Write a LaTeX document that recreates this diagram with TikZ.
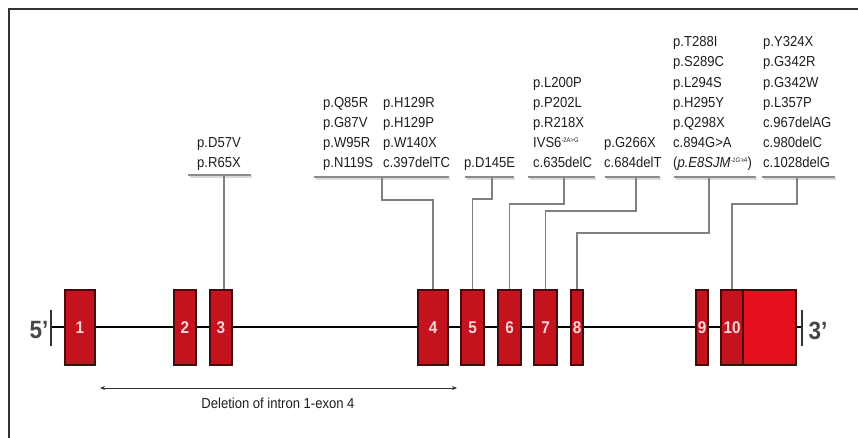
\documentclass[tikz,border=0pt]{standalone}
\usepackage{fontspec}
\setmainfont{Liberation Sans}[FakeStretch=0.9]
\usetikzlibrary{arrows.meta}
\definecolor{exonred}{RGB}{196,18,30}
\definecolor{utrred}{RGB}{228,16,28}
\definecolor{exonline}{RGB}{70,10,12}
\definecolor{exontxt}{RGB}{250,214,214}
\definecolor{conn}{RGB}{128,128,128}
\definecolor{uline}{RGB}{140,140,140}
\definecolor{ushadow}{RGB}{218,218,218}
\definecolor{txt}{RGB}{30,30,30}
\definecolor{frame}{RGB}{50,50,50}
\newcommand\Lst[1]{\vbox{\baselineskip=20.2pt\lineskiplimit=-20pt\halign{##\hfil\cr#1\crcr}}}
\newcommand\sups[1]{\raisebox{5.5pt}{\fontsize{6.5}{7}\selectfont #1}}
\begin{document}
\begin{tikzpicture}[x=1pt,y=-1pt,
  lbl/.style={font=\fontsize{14.5}{17}\selectfont, text=txt, inner sep=0pt, anchor=base west},
  exon/.style={draw=exonline, line width=1.4pt, fill=exonred, minimum height=75pt, inner sep=0pt,
    font=\bfseries\fontsize{17}{17}\selectfont, text=exontxt},
  connector/.style={draw=conn, line width=1.3pt},
  underline/.style={draw=uline, line width=2.2pt},
  ushadowline/.style={draw=ushadow, line width=2pt},
  endbar/.style={draw=frame, line width=2pt},
  endlabel/.style={font=\bfseries\fontsize{25}{25}\selectfont, text=frame!90!white, inner sep=0pt}]
\useasboundingbox (0,0) rectangle (858,438);
% frame
\draw[frame, line width=2pt] (8.7,438) -- (8.7,9) -- (858,9);
% backbone
\coordinate (b5) at (51,327);
\coordinate (b3) at (802,327);
\draw[line width=2.5pt, black] (b5) -- (b3);
\draw[endbar] (51,310) -- (51,346);
\draw[endbar] (802,310) -- (802,346);
\node[endlabel] (p5) at (39,330) {5'};
\node[endlabel] (p3) at (818,331) {3'};
% exons
\node[exon, minimum width=30pt] (e1) at (80,327.5) {1};
\node[exon, minimum width=22pt] (e2) at (185,327.5) {2};
\node[exon, minimum width=22pt] (e3) at (221,327.5) {3};
\node[exon, minimum width=30pt] (e4) at (433,327.5) {4};
\node[exon, minimum width=23pt] (e5) at (472.5,327.5) {5};
\node[exon, minimum width=23pt] (e6) at (509.5,327.5) {6};
\node[exon, minimum width=23pt] (e7) at (545.5,327.5) {7};
\node[exon, minimum width=12pt] (e8) at (577,327.5) {8};
\node[exon, minimum width=12pt] (e9) at (702,327.5) {9};
\node[exon, minimum width=53pt, fill=utrred] (utr) at (769.5,327.5) {};
\node[exon, minimum width=22pt] (e10) at (732,327.5) {10};
% labels
\node[lbl] (g3) at (197,168) {\Lst{p.D57V\cr p.R65X}};
\node[lbl] (g4a) at (323,168) {\Lst{p.Q85R\cr p.G87V\cr p.W95R\cr p.N119S}};
\node[lbl] (g4b) at (383,168) {\Lst{p.H129R\cr p.H129P\cr p.W140X\cr c.397delTC}};
\node[lbl] (g5) at (464,168) {\Lst{p.D145E}};
\node[lbl] (g6) at (533,168) {\Lst{p.L200P\cr p.P202L\cr p.R218X\cr IVS6\sups{-2A>G}\cr c.635delC}};
\node[lbl] (g7) at (604,168) {\Lst{p.G266X\cr c.684delT}};
\node[lbl] (g8) at (673,168) {\Lst{p.T288I\cr p.S289C\cr p.L294S\cr p.H295Y\cr p.Q298X\cr c.894G>A\cr (\textit{p.E8SJM}\sups{\itshape -1G>A})}};
\node[lbl] (g10) at (763,168) {\Lst{p.Y324X\cr p.G342R\cr p.G342W\cr p.L357P\cr c.967delAG\cr c.980delC\cr c.1028delG}};
% underlines
\foreach \a/\b/\y in {188/251/175, 314/449/177, 465/514/177, 528/595/177, 605/660/177, 674/756/177, 762/835/177}{
  \draw[ushadowline] (\a+2,\y+2.2) -- (\b+1,\y+2.2);
  \draw[underline] (\a,\y) -- (\b,\y);
}
% connector tops
\coordinate (t3) at (224,176);
\coordinate (t4) at (382,178);
\coordinate (t5) at (492,178);
\coordinate (t6) at (564,178);
\coordinate (t7) at (636,178);
\coordinate (t8) at (709,178);
\coordinate (t10) at (797,178);
% connectors
\draw[connector] (t3) -- (t3 |- e3.north);
\draw[connector] (t4) |- (433,200) -- (e4.north);
\draw[connector] (t5) |- (472.5,199) -- (e5.north);
\draw[connector] (t6) |- (509.5,204) -- (e6.north);
\draw[connector] (t7) |- (545.5,211) -- (e7.north);
\draw[connector] (t8) |- (577,233) -- (e8.north);
\draw[connector] (t10) |- (732,204) -- (e10.north);
% deletion
\coordinate (d1) at (100,388);
\coordinate (d2) at (457,388);
\draw[frame, line width=1pt, {Stealth[length=5pt,width=4pt]}-{Stealth[length=5pt,width=4pt]}] (d1) -- (d2);
\node[lbl, anchor=base] (dl) at (278,408) {Deletion of intron 1-exon 4};
\end{tikzpicture}
\end{document}
